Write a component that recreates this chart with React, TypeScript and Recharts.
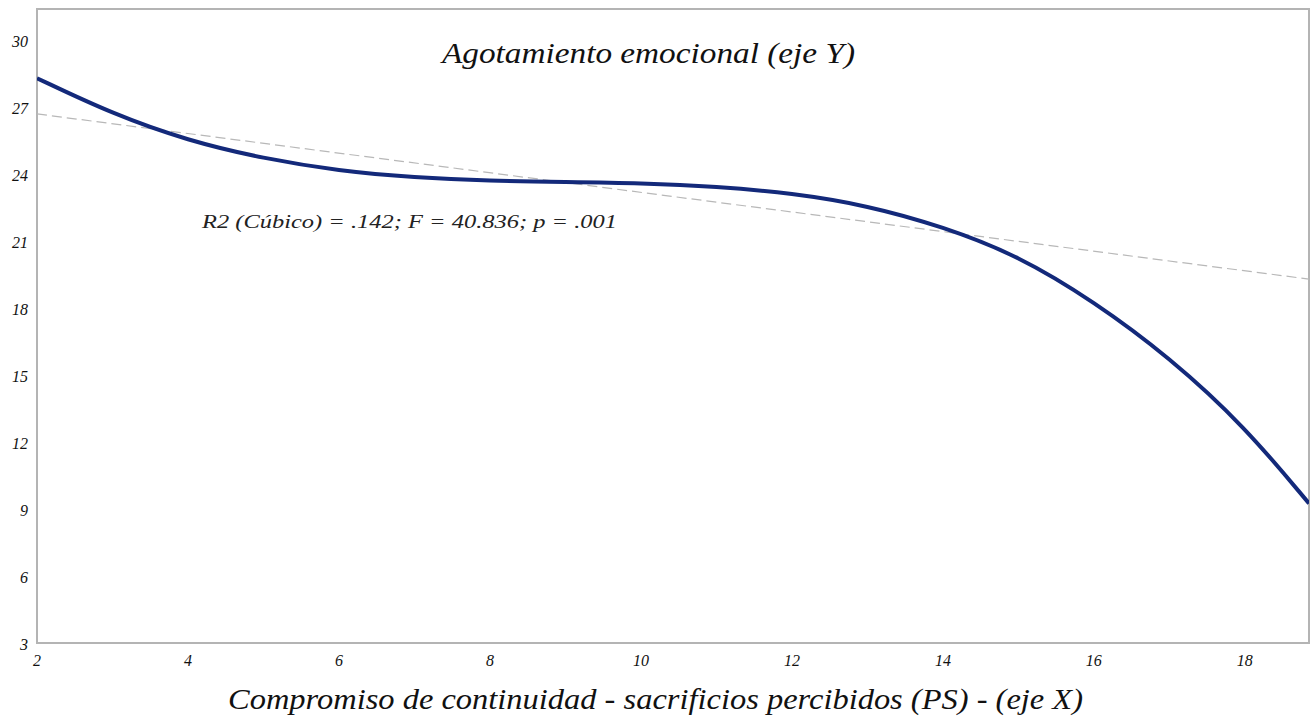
import { Line, LineChart, ReferenceArea, XAxis, YAxis } from "recharts";

// PS score (x) and fitted burnout values
const psValues = [2, 3, 4, 5, 6, 7, 8, 9, 10, 11, 12, 13, 14, 15, 16, 17, 18, 18.85];
const cubicFit = [28.3, 26.7, 25.5, 24.7, 24.15, 23.85, 23.7, 23.65, 23.6, 23.45, 23.15, 22.6, 21.65, 20.35, 18.3, 15.8, 12.7, 9.25];
const linearFit = [26.7, null, null, null, null, null, null, null, null, null, null, null, null, null, null, null, null, 19.3];

const xTicks = [2, 4, 6, 8, 10, 12, 14, 16, 18];
const yTicks = [3, 6, 9, 12, 15, 18, 21, 24, 27, 30];

const title = "Agotamiento emocional (eje Y)";
const xTitle = "Compromiso de continuidad - sacrificios percibidos (PS) - (eje X)";
const note = "R2 (Cúbico) = .142; F = 40.836; p = .001";

const data = psValues.map((x, i) => ({
  x,
  cubic: cubicFit[i],
  linear: linearFit[i],
}));

const serif = "'Liberation Serif', 'Times New Roman', serif";

function XTitle(props: any) {
  const vb = props.viewBox || {};
  return (
    <text
      x={228}
      y={vb.y + 66}
      fontFamily={serif}
      fontStyle="italic"
      fontSize={30}
      fill="#111"
      textLength={855}
      lengthAdjust="spacingAndGlyphs"
    >
      {xTitle}
    </text>
  );
}

function Tick(props: any) {
  const { x, y, payload, anchor, dy } = props;
  return (
    <text
      x={x}
      y={y}
      dy={dy}
      textAnchor={anchor}
      fontFamily={serif}
      fontStyle="italic"
      fontSize={16}
      fill="#111"
    >
      {payload.value}
    </text>
  );
}

export default function App() {
  return (
    <div style={{ position: "absolute", left: 0, top: 0, width: 1311, height: 725, background: "#fff" }}>
      <LineChart
        width={1311}
        height={725}
        data={data}
        margin={{ top: 9, right: 2, left: 7, bottom: 22 }}
      >
        <XAxis
          dataKey="x"
          type="number"
          domain={[2, 18.85]}
          ticks={xTicks}
          allowDataOverflow
          axisLine={false}
          tickLine={false}
          tickSize={0}
          tickMargin={10}
          height={60}
          tick={<Tick anchor="middle" dy={13} />}
          label={<XTitle />}
        />
        <YAxis
          type="number"
          domain={[3, 31.4]}
          ticks={yTicks}
          allowDataOverflow
          axisLine={false}
          tickLine={false}
          tickSize={0}
          tickMargin={9}
          width={30}
          tick={<Tick anchor="end" dy={7} />}
        />
        <ReferenceArea
          x1={2}
          x2={18.85}
          y1={3}
          y2={31.4}
          fill="none"
          stroke="#b4b4b4"
          strokeWidth={2}
          ifOverflow="visible"
        />
        <Line
          dataKey="linear"
          type="linear"
          stroke="#b8b8b8"
          strokeWidth={1.2}
          strokeDasharray="10 5"
          dot={false}
          connectNulls
          isAnimationActive={false}
        />
        <Line
          dataKey="cubic"
          type="basis"
          stroke="#13297a"
          strokeWidth={4}
          dot={false}
          isAnimationActive={false}
        />
      </LineChart>
      <svg
        width={1311}
        height={725}
        style={{ position: "absolute", left: 0, top: 0, pointerEvents: "none" }}
      >
        <text
          x={442}
          y={63}
          fontFamily={serif}
          fontStyle="italic"
          fontSize={30}
          fill="#111"
          textLength={413}
          lengthAdjust="spacingAndGlyphs"
        >
          {title}
        </text>
        <text
          x={202}
          y={228}
          fontFamily={serif}
          fontStyle="italic"
          fontSize={18}
          fill="#222"
          textLength={415}
          lengthAdjust="spacingAndGlyphs"
        >
          {note}
        </text>
      </svg>
    </div>
  );
}
